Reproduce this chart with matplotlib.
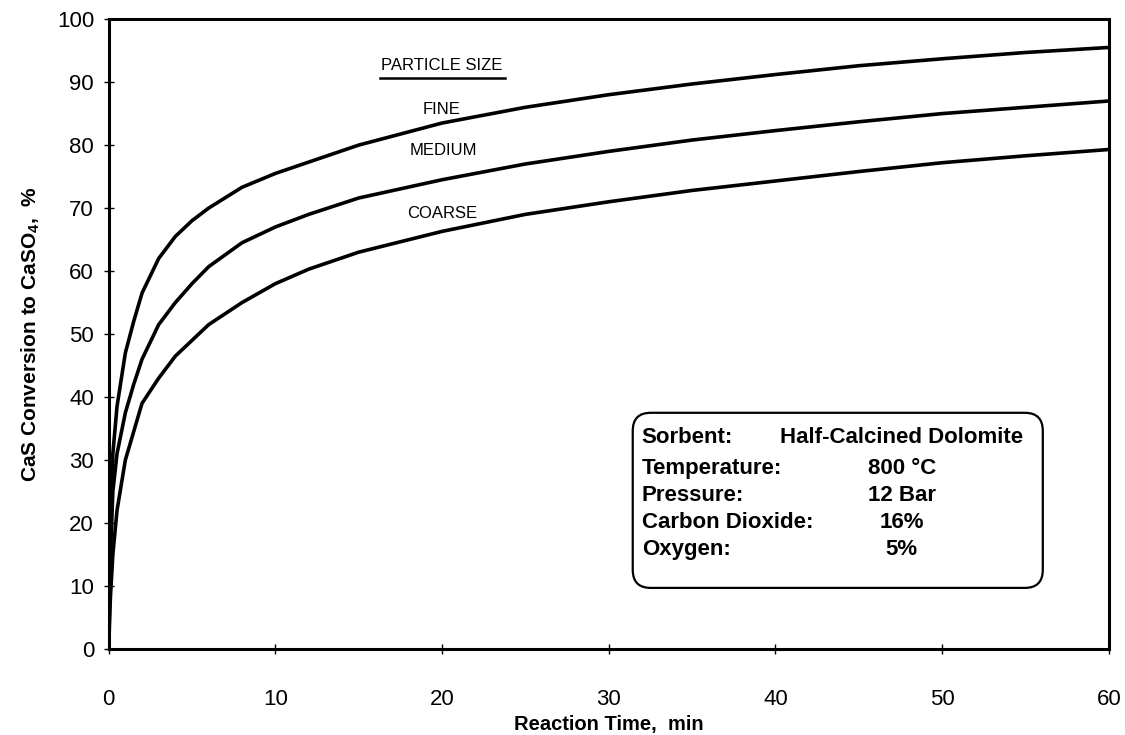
import matplotlib
matplotlib.use("Agg")
import matplotlib.pyplot as plt
from matplotlib.patches import FancyBboxPatch

plt.rcParams['font.family'] = ['Liberation Sans', 'DejaVu Sans']
plt.rcParams['mathtext.fontset'] = 'custom'
plt.rcParams['mathtext.rm'] = 'Liberation Sans'
plt.rcParams['mathtext.bf'] = 'Liberation Sans:bold'

# Data
time_min = [0, 0.1, 0.25, 0.5, 1, 1.5, 2, 3, 4, 5, 6, 8, 10, 12, 15, 20,
            25, 30, 35, 40, 45, 50, 55, 60]
fine = [0, 20, 31, 38.5, 47, 52, 56.5, 62, 65.5, 68, 70, 73.3, 75.5, 77.3,
        80, 83.5, 86, 88, 89.7, 91.2, 92.6, 93.7, 94.7, 95.5]
medium = [0, 14, 25, 31, 37.5, 42, 46, 51.5, 55, 58, 60.7, 64.5, 67, 69,
          71.6, 74.5, 77, 79, 80.8, 82.3, 83.7, 85, 86, 87]
coarse = [0, 8, 15, 22, 30, 34.5, 39, 43, 46.5, 49, 51.5, 55, 58, 60.3,
          63, 66.3, 69, 71, 72.8, 74.3, 75.8, 77.2, 78.3, 79.3]

x_ticks = [0, 10, 20, 30, 40, 50, 60]
y_ticks = [0, 10, 20, 30, 40, 50, 60, 70, 80, 90, 100]

series_labels = ["FINE", "MEDIUM", "COARSE"]
label_pos = [(20.0, 85.6), (20.1, 79.2), (20.0, 69.2)]

info_keys = ["Sorbent:", "Temperature:", "Pressure:", "Carbon Dioxide:", "Oxygen:"]
info_vals = ["Half-Calcined Dolomite", "800 °C", "12 Bar", "16%", "5%"]

fig = plt.figure(figsize=(11.25, 7.35), dpi=100)
ax = fig.add_axes([0.0966, 0.117, 0.889, 0.857])

for ser in (fine, medium, coarse):
    ax.plot(time_min, ser, color='black', lw=2.6, solid_capstyle='round',
            solid_joinstyle='round')

ax.set_xlim(0, 60)
ax.set_ylim(0, 100)
ax.set_xticks(x_ticks)
ax.set_yticks(y_ticks)
ax.tick_params(axis='both', direction='inout', length=7, width=1.0,
               labelsize=16, colors='black')
ax.tick_params(axis='x', pad=25)
ax.tick_params(axis='y', pad=7)
for sp in ax.spines.values():
    sp.set_linewidth(2.2)
    sp.set_color('black')

ax.set_xlabel("Reaction Time,  min", fontsize=14.5, fontweight='bold', labelpad=4)
ax.set_ylabel(r"CaS Conversion to CaSO$_{\mathbf{4}}$,  %", fontsize=15,
              fontweight='bold', labelpad=11)

# particle size annotations
ax.text(20.0, 92.7, "PARTICLE SIZE", fontsize=12, ha='center', va='center')
ax.plot([16.3, 23.8], [90.7, 90.7], color='black', lw=1.8)
for lab, (xx, yy) in zip(series_labels, label_pos):
    ax.text(xx, yy, lab, fontsize=12, ha='center', va='center')

# info box
box = FancyBboxPatch((0.524, 0.097), 0.41, 0.278,
                     boxstyle="round,pad=0,rounding_size=0.018",
                     transform=ax.transAxes, mutation_aspect=1000 / 630,
                     facecolor='white', edgecolor='black', lw=1.6, zorder=3)
ax.add_patch(box)
row_y = [0.335, 0.286, 0.243, 0.201, 0.158]
for k, v, yy in zip(info_keys, info_vals, row_y):
    ax.text(0.533, yy, k, transform=ax.transAxes, fontsize=16,
            fontweight='bold', ha='left', va='center', zorder=4)
    ax.text(0.793, yy, v, transform=ax.transAxes, fontsize=16,
            fontweight='bold', ha='center', va='center', zorder=4)

fig.savefig("out.png", dpi=100)
